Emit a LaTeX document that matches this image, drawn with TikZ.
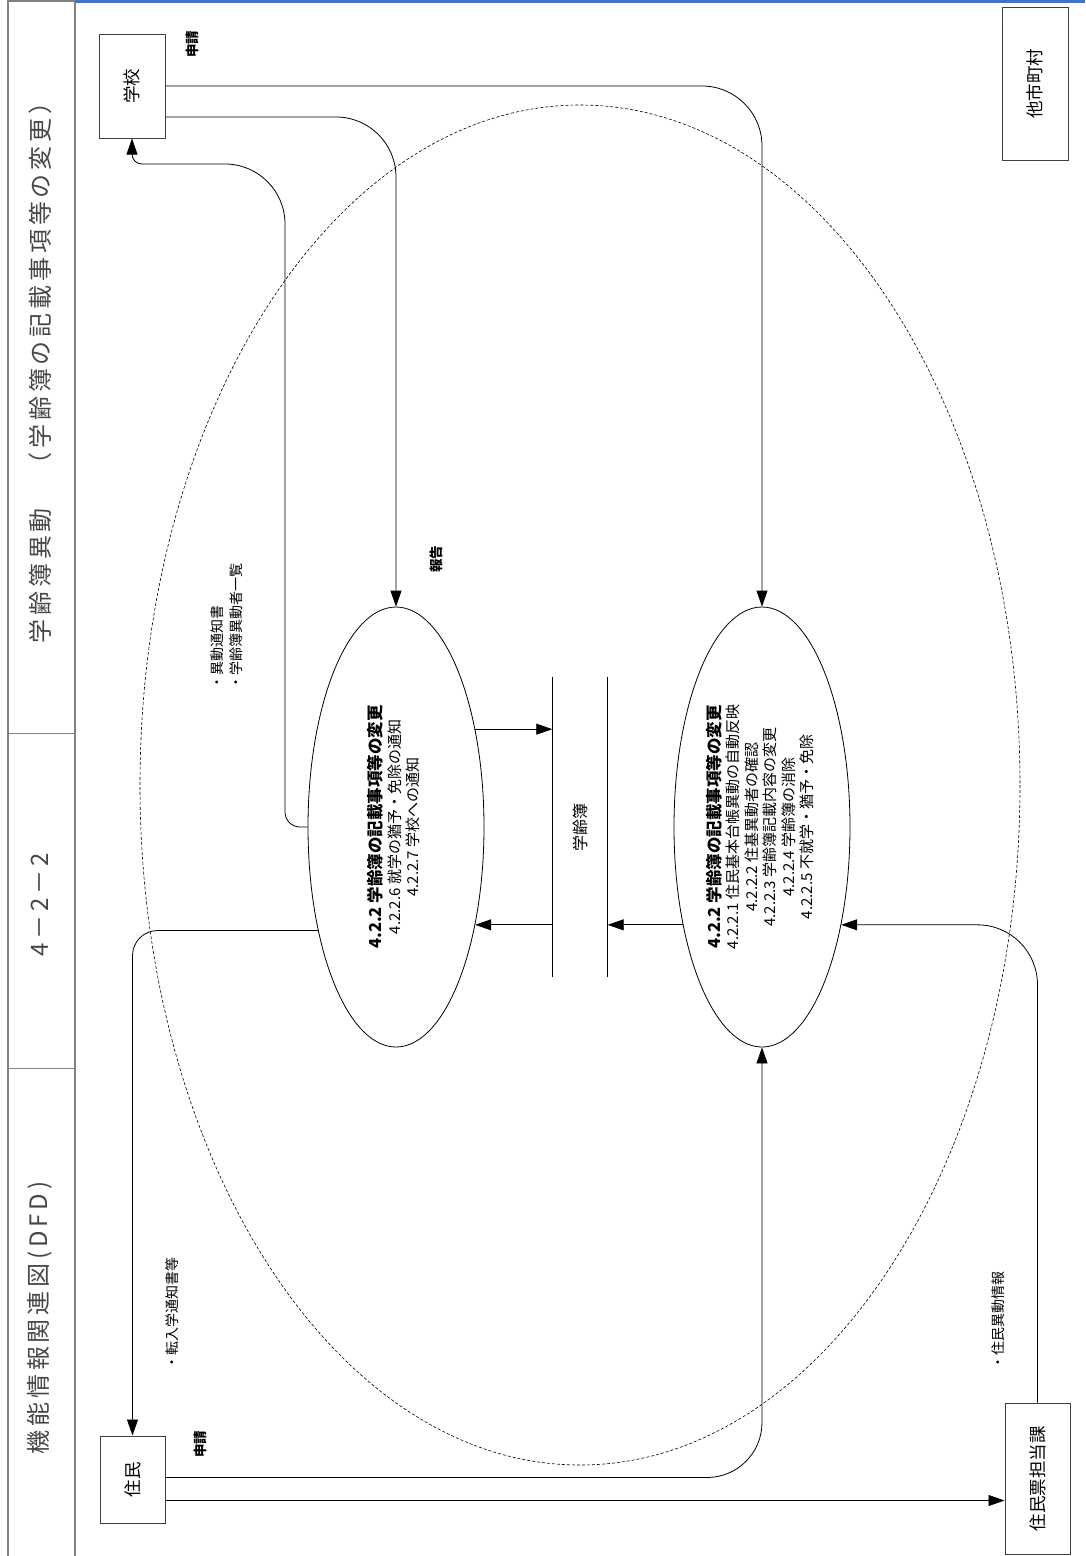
\documentclass[tikz,border=0pt]{standalone}
\usepackage{graphicx}
\usepackage{fontspec}
\setmainfont{Noto Sans CJK JP}
\usetikzlibrary{shapes.geometric,arrows.meta,calc}

\definecolor{framegray}{RGB}{128,128,128}
\definecolor{topblue}{RGB}{68,114,196}
\definecolor{titlegray}{RGB}{70,70,70}

\newcommand{\proctext}[2]{\rotatebox{90}{\fontsize{15}{18.5}\selectfont
  \begin{tabular}{@{}c@{}}{\fontsize{16.5}{18.5}\selectfont\bfseries #1}\\#2\end{tabular}}}

\tikzset{
  entity/.style={draw=black!75, line width=1pt, minimum width=66pt, inner sep=0pt,
    font=\fontsize{17.5}{20}\selectfont},
  proc/.style={ellipse, draw, line width=0.8pt, minimum width=176pt,
    minimum height=440pt, inner sep=0pt},
  flow/.style={line width=0.8pt, -{Triangle[length=16pt,width=11pt]}},
  datalabel/.style={rotate=90, inner sep=0pt, font=\fontsize{14}{16}\selectfont},
  askfont/.style={font=\fontsize{13.5}{15}\selectfont\bfseries},
  striptext/.style={rotate=90, inner sep=0pt, text=titlegray,
    font=\fontsize{24}{26}\selectfont\addfontfeatures{LetterSpace=16}},
}

\begin{document}
\begin{tikzpicture}[x=1pt,y=-1pt]
\useasboundingbox (0,0) rectangle (1085,1556);

% title strip
\draw[framegray, line width=1.5pt] (8,0) -- (8,1556);
\draw[framegray, line width=1.5pt] (75,0) -- (75,1556);
\draw[framegray, line width=1pt] (8,733) -- (75,733);
\draw[framegray, line width=1pt] (8,1068) -- (75,1068);
\draw[framegray, line width=2pt] (8,1) -- (75,1);
\draw[topblue, line width=3pt] (75,1.5) -- (1085,1.5);
\node[striptext] (title) at (40,367) {学齢簿異動　（学齢簿の記載事項等の変更）};
\node[striptext] (number) at (40,905) {4－2－2};
\node[striptext] (kind) at (40,1318) {機能情報関連図(DFD)};

% scope of the process
\draw[dashed, dash pattern=on 3pt off 2pt, line width=0.6pt] (580,785) ellipse [x radius=440, y radius=680];

% external entities
\node[entity, minimum height=104pt] (school) at (132,86) {\rotatebox{90}{学校}};
\node[entity, minimum height=153pt] (other) at (1035,83.5) {\rotatebox{90}{他市町村}};
\node[entity, minimum width=65pt, minimum height=87pt] (resident) at (132.5,1479.5) {\rotatebox{90}{住民}};
\node[entity, minimum width=65pt, minimum height=151pt] (jumin) at (1037.5,1478.5) {\rotatebox{90}{住民票担当課}};

% processes
\node[proc] (procA) at (396,827) {\proctext{4.2.2 学齢簿の記載事項等の変更}{4.2.2.6 就学の猶予・免除の通知\\4.2.2.7 学校への通知}};
\node[proc] (procB) at (762,827) {\proctext{4.2.2 学齢簿の記載事項等の変更}{4.2.2.1 住民基本台帳異動の自動反映\\4.2.2.2 住基異動者の確認\\4.2.2.3 学齢簿記載内容の変更\\4.2.2.4 学齢簿の消除\\4.2.2.5 不就学・猶予・免除}};

% data store
\node[minimum width=55pt, minimum height=300pt, inner sep=0pt, font=\fontsize{16}{18}\selectfont] (store) at (580,827) {\rotatebox{90}{学齢簿}};
\draw[line width=0.8pt] (store.north west) -- (store.south west);
\draw[line width=0.8pt] (store.north east) -- (store.south east);

% flows
\draw[flow, rounded corners=60pt] (school.east) -| (procB.north);
\draw[flow, rounded corners=60pt] ($(school.east)+(0,31)$) -| (procA.north);
\draw[flow] (procA.west) [rounded corners=15pt] -- (285,827) [rounded corners=60pt] -- (285,164)
  [rounded corners=10pt] -- (school.south |- 0,164) [sharp corners] -- (school.south);
\draw[flow, rounded corners=55pt] ($(resident.east)+(0,-2)$) -| (procB.south);
\draw[flow] ($(resident.east)+(0,21)$) coordinate (r2) -- (r2 -| jumin.west);
\draw[flow, rounded corners=25pt] (procA.233) -| (resident.north);
\draw[flow, rounded corners=60pt] (jumin.north) |- (procB.-51.6);
\draw[flow] (procA.51.2) -- (procA.51.2 -| store.west);
\draw[flow] (store.west |- procA.-51.6) -- (procA.-51.6);
\draw[flow] (procB.231.6) -- (procB.231.6 -| store.east);

% flow labels
\node[datalabel, askfont] (askA) at (192,44) {申請};
\node[datalabel, askfont] (askB) at (200,1444) {申請};
\node[datalabel, askfont] (report) at (436,559) {報告};
\node[datalabel, anchor=west] (notice) at (217,690) {・異動通知書};
\node[datalabel, anchor=west] (list) at (236,690) {・学齢簿異動者一覧};
\node[datalabel] (transfer) at (172,1313) {・転入学通知書等};
\node[datalabel] (moveinfo) at (998,1320) {・住民異動情報};

\end{tikzpicture}
\end{document}
